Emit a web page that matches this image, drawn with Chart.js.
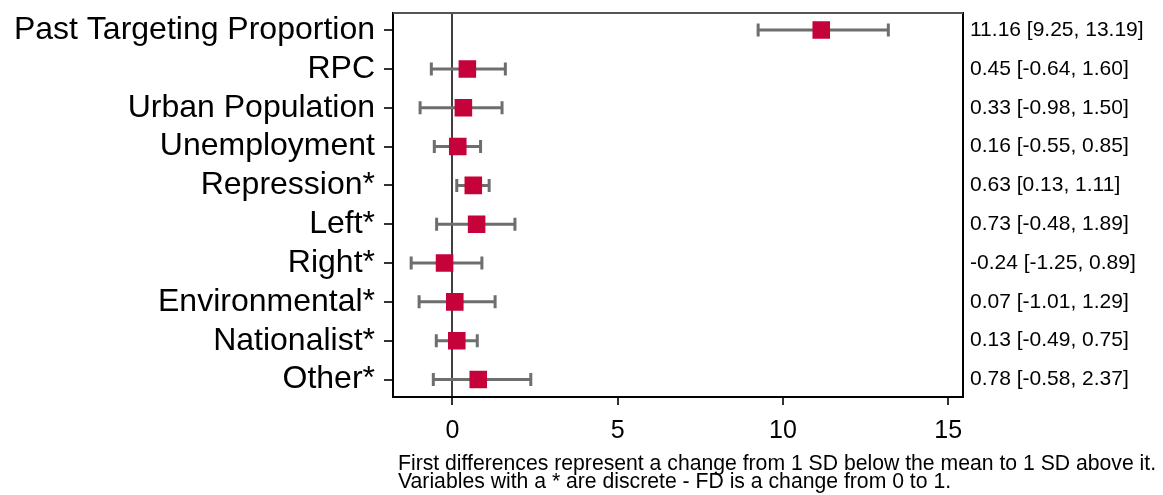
<!DOCTYPE html>
<html>
<head>
<meta charset="utf-8">
<script src="https://cdn.jsdelivr.net/npm/chart.js@4"></script>
<style>
  html, body { margin: 0; padding: 0; background: #fff; }
  #wrap { position: relative; width: 1163px; height: 495px; }
  #note {
    position: absolute; left: 398px; top: 454px; white-space: nowrap;
    font: 21.2px "Liberation Sans", Arial, sans-serif; line-height: 17.5px; color: #000;
  }
</style>
</head>
<body>
<div id="wrap">
  <canvas id="fd-chart" width="1163" height="495"></canvas>
  <div id="note">First differences represent a change from 1 SD below the mean to 1 SD above it.<br>Variables with a * are discrete - FD is a change from 0 to 1.</div>
</div>
<script>
// ── Data ──────────────────────────────────────────────────────────────
const categories = ['Past Targeting Proportion', 'RPC', 'Urban Population', 'Unemployment',
  'Repression*', 'Left*', 'Right*', 'Environmental*', 'Nationalist*', 'Other*'];
const estimates = [11.16, 0.45, 0.33, 0.16, 0.63, 0.73, -0.24, 0.07, 0.13, 0.78];
const lowerCI   = [9.25, -0.64, -0.98, -0.55, 0.13, -0.48, -1.25, -1.01, -0.49, -0.58];
const upperCI   = [13.19, 1.60, 1.50, 0.85, 1.11, 1.89, 0.89, 1.29, 0.75, 2.37];
const xTicks    = [0, 5, 10, 15];

const FONT = '"Liberation Sans", Arial, sans-serif';
const MARKER_COLOR = '#c5033a';
const BAR_COLOR    = '#6e6e6e';

const fmt = v => v.toFixed(2);
const ciLabels = estimates.map((e, i) => `${fmt(e)} [${fmt(lowerCI[i])}, ${fmt(upperCI[i])}]`);

// fixed axis sizes so the plot box sits where the original one does
function fixAxis(size) {
  return s => {
    if (s.isHorizontal()) s.height = size; else s.width = size;
    s.paddingTop = s.paddingBottom = s.paddingLeft = s.paddingRight = 0;
  };
}

// ── Error bars + frame ────────────────────────────────────────────────
const errorBars = {
  id: 'errorBars',
  beforeDatasetsDraw(chart) {
    const { ctx, chartArea, scales: { x, y } } = chart;
    ctx.save();
    // top frame line
    ctx.strokeStyle = '#555';
    ctx.lineWidth = 2;
    ctx.beginPath();
    ctx.moveTo(chartArea.left, chartArea.top);
    ctx.lineTo(chartArea.right, chartArea.top);
    ctx.stroke();

    ctx.strokeStyle = BAR_COLOR;
    ctx.lineWidth = 3;
    estimates.forEach((_, i) => {
      const py = y.getPixelForValue(i);
      const x0 = x.getPixelForValue(lowerCI[i]);
      const x1 = x.getPixelForValue(upperCI[i]);
      ctx.beginPath();
      ctx.moveTo(x0, py); ctx.lineTo(x1, py);
      ctx.moveTo(x0, py - 6.5); ctx.lineTo(x0, py + 6.5);
      ctx.moveTo(x1, py - 6.5); ctx.lineTo(x1, py + 6.5);
      ctx.stroke();
    });
    ctx.restore();
  }
};

// ── Chart ─────────────────────────────────────────────────────────────
new Chart(document.getElementById('fd-chart'), {
  type: 'scatter',
  data: {
    datasets: [{
      data: estimates.map((v, i) => ({ x: v, y: i })),
      pointStyle: 'rect',
      pointRadius: 11,
      pointBackgroundColor: MARKER_COLOR,
      pointBorderColor: MARKER_COLOR,
      pointBorderWidth: 2,
      yAxisID: 'y',
    }],
  },
  options: {
    responsive: false,
    animation: false,
    layout: { padding: { left: 0, right: 0, top: 12, bottom: 53 } },
    plugins: { legend: { display: false }, tooltip: { enabled: false } },
    scales: {
      x: {
        type: 'linear',
        min: -1.8,
        max: 15.45,
        afterBuildTicks: s => { s.ticks = xTicks.map(v => ({ value: v })); },
        afterFit: fixAxis(45),
        ticks: { color: '#000', font: { family: FONT, size: 25 }, padding: 11, autoSkip: false, maxRotation: 0 },
        grid: {
          color: c => (c.tick && c.tick.value === 0 ? '#404040' : 'rgba(0,0,0,0)'),
          lineWidth: 2,
          tickColor: '#333',
          tickLength: 8,
        },
        border: { display: true, color: '#000', width: 2 },
      },
      y: {
        type: 'linear',
        position: 'left',
        reverse: true,
        min: -0.44,
        max: 9.45,
        afterBuildTicks: s => { s.ticks = categories.map((_, i) => ({ value: i })); },
        afterFit: fixAxis(393),
        ticks: {
          color: '#000',
          font: { family: FONT, size: 32 },
          padding: 9,
          autoSkip: false,
          callback: v => categories[v],
        },
        grid: { drawOnChartArea: false, tickColor: '#333', tickLength: 9, lineWidth: 2 },
        border: { display: true, color: '#000', width: 2 },
      },
      y2: {
        type: 'linear',
        position: 'right',
        reverse: true,
        min: -0.44,
        max: 9.45,
        afterBuildTicks: s => { s.ticks = ciLabels.map((_, i) => ({ value: i })); },
        afterFit: fixAxis(200),
        ticks: {
          color: '#000',
          font: { family: FONT, size: 21 },
          padding: 7,
          autoSkip: false,
          callback: v => ciLabels[v],
        },
        grid: { drawOnChartArea: false, drawTicks: false },
        border: { display: true, color: '#000', width: 2 },
      },
    },
  },
  plugins: [errorBars],
});
</script>
</body>
</html>
